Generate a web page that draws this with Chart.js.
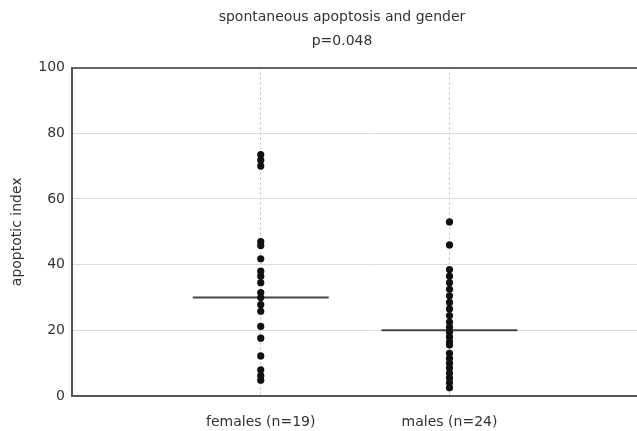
<!DOCTYPE html>
<html>
<head>
<meta charset="utf-8">
<script src="https://cdn.jsdelivr.net/npm/chart.js@4"></script>
<style>
  html, body { margin: 0; padding: 0; background: #fff; overflow: hidden; }
  #wrap { width: 637px; height: 431px; overflow: hidden; }
</style>
</head>
<body>
<div id="wrap"><canvas id="apoptosisChart" width="680" height="431"></canvas></div>
<script>
const categories = ["females (n=19)", "males (n=24)"];
const females = [73.5, 71.8, 70, 47, 45.8, 41.8, 38, 36.5, 34.5, 31.5, 30, 27.8, 25.8, 21.2, 17.6, 12.2, 8, 6.2, 4.8];
const males = [53, 46, 38.5, 36.5, 34.5, 32.5, 30.5, 28.5, 26.5, 24.5, 22.5, 21, 19.5, 18, 16.5, 15.5, 13, 11.5, 10, 8.5, 7, 5.5, 4, 2.5];
const medians = [30, 20];
const yTicks = [0, 20, 40, 60, 80, 100];

const groups = [females, males];
const halfWidth = 0.36;
const ctx = document.getElementById("apoptosisChart");

const datasets = [];
groups.forEach((vals, i) => {
  datasets.push({
    data: vals.map(v => ({ x: i + 1, y: v })),
    backgroundColor: "#111",
    borderWidth: 0,
    pointRadius: 3.6,
  });
});
medians.forEach((m, i) => {
  datasets.push({
    data: [{ x: i + 1 - halfWidth, y: m }, { x: i + 1 + halfWidth, y: m }],
    showLine: true,
    borderColor: "#444",
    borderWidth: 2,
    pointRadius: 0,
  });
});

var myChart = new Chart(ctx, {
  type: "scatter",
  data: { datasets: datasets },
  options: {
    responsive: false,
    animation: false,
    layout: { padding: { left: 4, right: 0, top: 0, bottom: 0 } },
    plugins: {
      legend: { display: false },
      tooltip: { enabled: false },
      title: {
        display: true,
        text: "spontaneous apoptosis and gender",
        color: "#333",
        font: { family: "DejaVu Sans", size: 14, weight: "normal", lineHeight: 1.2 },
        padding: { top: 9, bottom: 7 },
      },
      subtitle: {
        display: true,
        text: "p=0.048",
        color: "#333",
        font: { family: "DejaVu Sans", size: 14, weight: "normal", lineHeight: 1.2 },
        padding: { top: 0, bottom: 18 },
      },
    },
    scales: {
      x: {
        type: "linear",
        min: 0,
        max: 3.2,
        afterBuildTicks: (scale) => {
          scale.ticks = categories.map((c, i) => ({ value: i + 1 }));
        },
        afterFit: (scale) => { scale.height = 35; },
        ticks: {
          callback: (v) => categories[v - 1],
          color: "#333",
          font: { family: "DejaVu Sans", size: 14 },
          padding: 18,
          maxRotation: 0,
        },
        grid: {
          color: "#bdbdbd",
          drawTicks: false,
        },
        border: { color: "#555", width: 2, dash: [2, 3] },
      },
      y: {
        min: 0,
        max: 100,
        afterBuildTicks: (scale) => {
          scale.ticks = yTicks.map(v => ({ value: v }));
        },
        afterFit: (scale) => { scale.width = 68; },
        ticks: {
          color: "#333",
          font: { family: "DejaVu Sans", size: 14 },
          padding: 7,
        },
        grid: {
          drawTicks: false,
          color: (c) => (c.tick && c.tick.value === 100 ? "#666" : "#dcdcdc"),
          lineWidth: (c) => (c.tick && c.tick.value === 100 ? 2 : 1),
        },
        border: { color: "#555", width: 2 },
        title: {
          display: true,
          text: "apoptotic index",
          color: "#333",
          font: { family: "DejaVu Sans", size: 14 },
          padding: { top: 5, bottom: 0 },
        },
      },
    },
  },
});
</script>
</body>
</html>
